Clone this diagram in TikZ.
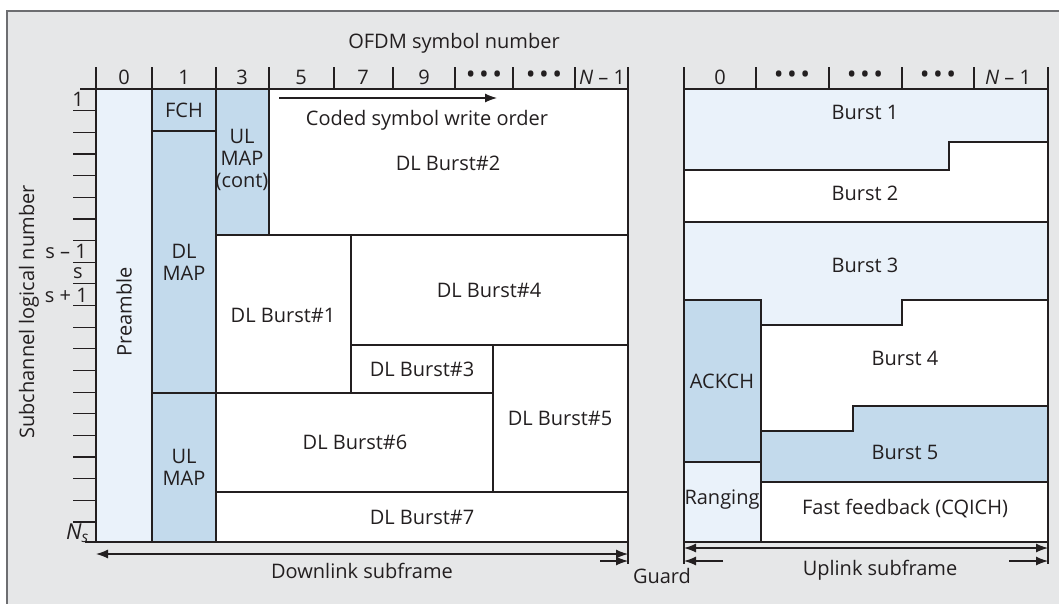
\documentclass[tikz,border=0pt]{standalone}
\usepackage{fontspec}
\setmainfont{Open Sans}
\usetikzlibrary{arrows.meta}
\definecolor{bg}{HTML}{E6E7E8}
\definecolor{pale}{HTML}{EAF2FA}
\definecolor{mid}{HTML}{C3DAEC}
\definecolor{ink}{HTML}{231F20}
\definecolor{rim}{HTML}{6D6E71}
\newcommand{\tridots}{{\fontsize{26}{26}\selectfont •\hspace{3.5pt}•\hspace{3.5pt}•}}
\begin{document}
\begin{tikzpicture}[x=1pt,y=-1pt,line join=miter,
  cell/.style={draw=ink,line width=1.2pt},
  rule/.style={draw=ink,line width=1.2pt},
  lbl/.style={text=ink,font=\fontsize{20}{21.8}\selectfont,inner sep=0pt,align=center},
  arr/.style={draw=ink,line width=1.2pt,-{Latex[length=12pt,width=9pt]}},
  darr/.style={draw=ink,line width=1.2pt,{Latex[length=12pt,width=9pt]}-{Latex[length=12pt,width=9pt]}}]
\useasboundingbox (0,0) rectangle (1059,603);
% frame
\fill[bg] (7,11) rectangle (1061,605);
\draw[rim,line width=1.5pt] (7,605) -- (7,11) -- (1061,11);

% ---------- downlink subframe ----------
\path[cell,fill=pale] (96,89) rectangle (152,542);
\path[cell,fill=mid] (152,89) rectangle (216,131);
\path[cell,fill=mid] (152,131) rectangle (216,393);
\path[cell,fill=mid] (152,393) rectangle (216,542);
\path[cell,fill=mid] (216,89) rectangle (269,235);
\path[cell,fill=white] (269,89) rectangle (628,235);
\path[cell,fill=white] (216,235) rectangle (351,393);
\path[cell,fill=white] (351,235) rectangle (628,345);
\path[cell,fill=white] (351,345) rectangle (493,393);
\path[cell,fill=white] (493,345) rectangle (628,492);
\path[cell,fill=white] (216,393) rectangle (493,492);
\path[cell,fill=white] (216,492) rectangle (628,542);

\node[lbl,rotate=90] (pre) at (124,312) {Preamble};
\node[lbl] (fch) at (184,110) {FCH};
\node[lbl] (dlmap) at (184,262) {DL\\MAP};
\node[lbl] (ulmap) at (184,467) {UL\\MAP};
\node[lbl] (ulmapc) at (242,160) {UL\\MAP\\(cont)};
\node[lbl] (db2) at (448,163) {DL Burst\#2};
\node[lbl] (db1) at (283,315) {DL Burst\#1};
\node[lbl] (db4) at (489,290) {DL Burst\#4};
\node[lbl] (db3) at (422,369) {DL Burst\#3};
\node[lbl] (db5) at (560,418) {DL Burst\#5};
\node[lbl] (db6) at (355,442) {DL Burst\#6};
\node[lbl] (db7) at (422,517) {DL Burst\#7};

% write order
\coordinate (wa) at (279,98);
\coordinate (wb) at (497,98);
\draw[arr] (wa) -- (wb);
\node[lbl] (wo) at (427,120) {Coded symbol write order};

% symbol axis
\node[lbl] (ofdm) at (454,43) {OFDM symbol number};
\draw[rule] (80,89) -- (628,89);
\foreach \c in {96,152,216,269,334,393,455,513,575} \draw[rule] (\c,67) -- (\c,89);
\draw[rule] (628,67) -- (628,564);
\foreach \c/\t [count=\i] in {124/0,184/1,242/3,301/5,363/7,424/9,484/\tridots,544/\tridots}
  \node[lbl] (hx\i) at (\c,77) {\t};
\node[lbl] (hxn) at (602,77) {\textit{N} – 1};

% subchannel axis
\foreach \k in {1,...,20} \draw[rule] (73,{89+\k*21.65}) -- (96,{89+\k*21.65});
\draw[rule] (85,542) -- (628,542);
\node[lbl] (s1) at (78,99) {1};
\node[lbl,anchor=east] (sm) at (87,251) {s – 1};
\node[lbl] (s0) at (78,273) {s};
\node[lbl,anchor=east] (sp) at (88,295) {s + 1};
\node[lbl,anchor=east] (sn) at (89,533) {\fontsize{22}{22}\selectfont\textit{N}\textsubscript{\textit{s}}};
\node[lbl,rotate=90] (ylab) at (29,312) {Subchannel logical number};

% ---------- uplink subframe ----------
\path[cell,fill=pale] (684,89) -- (1048,89) -- (1048,142) -- (949,142) -- (949,170) -- (684,170) -- cycle;
\path[cell,fill=white] (684,170) -- (949,170) -- (949,142) -- (1048,142) -- (1048,222) -- (684,222) -- cycle;
\path[cell,fill=pale] (684,222) -- (1048,222) -- (1048,300) -- (902,300) -- (902,325) -- (761,325) -- (761,300) -- (684,300) -- cycle;
\path[cell,fill=mid] (684,300) rectangle (761,462);
\path[cell,fill=white] (761,325) -- (902,325) -- (902,300) -- (1048,300) -- (1048,406) -- (853,406) -- (853,431) -- (761,431) -- cycle;
\path[cell,fill=mid] (761,431) -- (853,431) -- (853,406) -- (1048,406) -- (1048,482) -- (761,482) -- cycle;
\path[cell,fill=pale] (684,462) rectangle (761,542);
\path[cell,fill=white] (761,482) rectangle (1048,542);

\node[lbl] (ub1) at (865,112) {Burst 1};
\node[lbl] (ub2) at (865,193) {Burst 2};
\node[lbl] (ub3) at (865,265) {Burst 3};
\node[lbl] (ub4) at (905,358) {Burst 4};
\node[lbl] (ub5) at (905,452) {Burst 5};
\node[lbl] (ack) at (722,381) {ACKCH};
\node[lbl] (rng) at (722,500) {Ranging};
\node[lbl] (ffb) at (905,509) {Fast feedback (CQICH)};

\foreach \c in {756,829,902,974} \draw[rule] (\c,67) -- (\c,89);
\draw[rule] (684,67) -- (684,564);
\draw[rule] (1048,67) -- (1048,564);
\foreach \c/\t [count=\i] in {720/0,792/\tridots,865/\tridots,938/\tridots}
  \node[lbl] (ux\i) at (\c,77) {\t};
\node[lbl] (uxn) at (1008,77) {\textit{N} – 1};

% ---------- subframe spans and guard ----------
\coordinate (dl0) at (96,554);
\coordinate (dl1) at (628,554);
\draw[darr] (dl0) -- (dl1);
\node[lbl] (dlt) at (362,571) {Downlink subframe};
\coordinate (ul0) at (684,548);
\coordinate (ul1) at (1048,548);
\draw[darr] (ul0) -- (ul1);
\node[lbl] (ult) at (880,570) {Uplink subframe};
\coordinate (g0) at (600,561);
\coordinate (g1) at (628,561);
\coordinate (g2) at (723,561);
\coordinate (g3) at (684,561);
\coordinate (g4) at (1009,561);
\coordinate (g5) at (1048,561);
\draw[arr] (g0) -- (g1);
\draw[arr] (g2) -- (g3);
\draw[arr] (g4) -- (g5);
\node[lbl] (grd) at (662,576) {Guard};
\end{tikzpicture}
\end{document}
